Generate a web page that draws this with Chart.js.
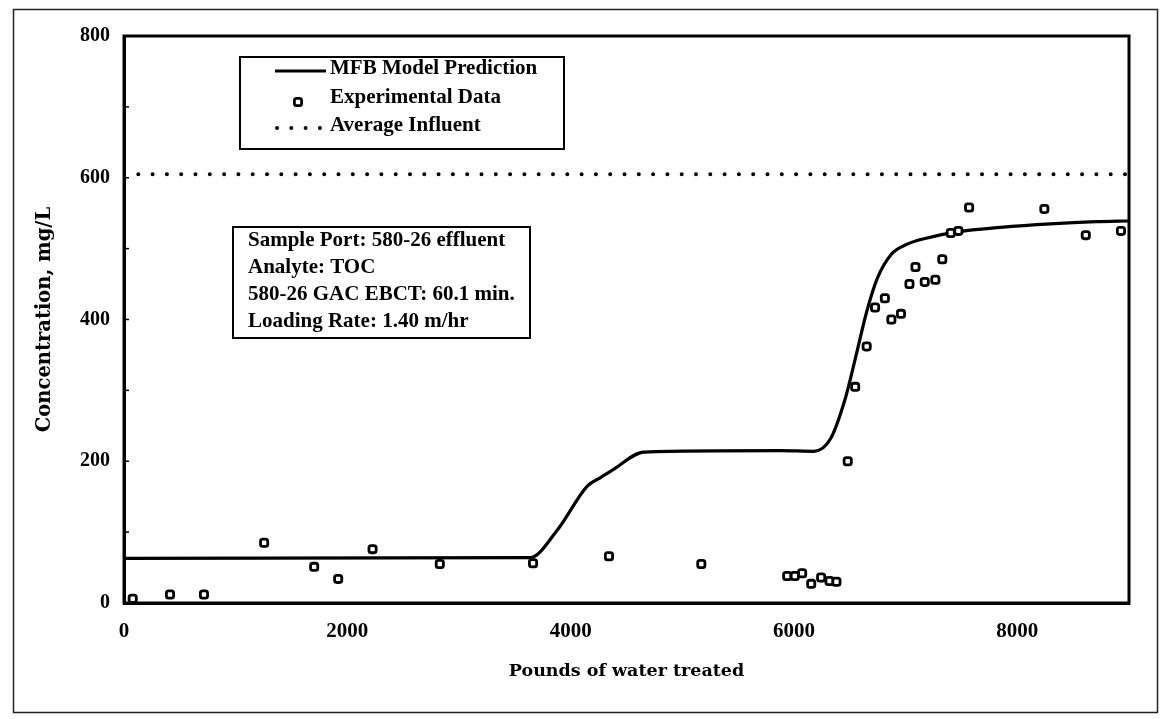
<!DOCTYPE html>
<html><head><meta charset="utf-8">
<script src="https://cdn.jsdelivr.net/npm/chart.js@4.4.0/dist/chart.umd.min.js"></script>
<style>html,body{margin:0;padding:0;background:#fff;}#wrap{position:relative;width:1161px;height:719px;}</style>
</head><body><div id="wrap"><canvas id="c" width="1161" height="719"></canvas></div>
<script>
// ---- data ----
const modelX = [0, 3636, 3881, 4149, 4268, 4388, 4656, 5879, 6177, 6328, 6462, 6548, 6651, 6746, 6872, 7009, 7164, 7472, 7848, 8295, 8705, 9000];
const modelY = [63, 64, 103, 165, 177, 189, 213, 215, 214, 232, 290, 344, 411, 458, 492, 506, 514, 524, 530, 535, 538, 539];
const expX = [78, 412, 716, 1255, 1703, 1918, 2226, 2828, 3663, 4343, 5170, 5939, 6007, 6073, 6154, 6243, 6318, 6380, 6481, 6548, 6651, 6726, 6814, 6872, 6958, 7034, 7088, 7171, 7266, 7328, 7404, 7472, 7568, 8242, 8613, 8928];
const expY = [6, 12, 12, 85, 51, 34, 76, 55, 56, 66, 55, 38, 38, 42, 27, 36, 31, 30, 200, 305, 362, 417, 430, 400, 408, 450, 474, 453, 456, 485, 522, 525, 558, 556, 519, 525];
const influentX = [0, 9000];
const influentY = [605, 605];
const xTicks = [0, 2000, 4000, 6000, 8000];
const yTicks = [0, 200, 400, 600, 800];
const seriesLabels = ['MFB Model Prediction', 'Experimental Data', 'Average Influent'];
const noteLines = ['Sample Port: 580-26 effluent', 'Analyte: TOC', '580-26 GAC EBCT: 60.1 min.', 'Loading Rate: 1.40 m/hr'];
const xTitle = 'Pounds of water treated';
const yTitle = 'Concentration, mg/L';

const pts = (xs, ys) => xs.map((x, i) => ({x, y: ys[i]}));

const framePlugin = {
  id: 'framePlugin',
  beforeDraw(chart) {
    const ctx = chart.ctx;
    ctx.save();
    ctx.fillStyle = '#fff';
    ctx.fillRect(0, 0, chart.width, chart.height);
    ctx.strokeStyle = '#222';
    ctx.lineWidth = 1.5;
    ctx.strokeRect(13.5, 9.5, 1144, 703);
    ctx.restore();
  },
  afterDatasetsDraw(chart) {
    const {ctx, chartArea: a, scales: {y}} = chart;
    ctx.save();
    ctx.strokeStyle = '#000';
    ctx.lineWidth = 3;
    ctx.strokeRect(a.left, a.top, a.right - a.left, a.bottom - a.top);
    ctx.lineWidth = 1.5;
    for (let v = 100; v < 800; v += 100) {
      const py = y.getPixelForValue(v);
      ctx.beginPath(); ctx.moveTo(a.left, py); ctx.lineTo(a.left + 5, py); ctx.stroke();
    }
    ctx.restore();
  }
};

const boxesPlugin = {
  id: 'boxesPlugin',
  afterDraw(chart) {
    const ctx = chart.ctx;
    const ds = chart.data.datasets;
    ctx.save();
    // legend box
    const bx = 240, by = 57, bw = 324, bh = 92;
    ctx.fillStyle = '#fff'; ctx.fillRect(bx, by, bw, bh);
    ctx.strokeStyle = '#000'; ctx.lineWidth = 2; ctx.strokeRect(bx, by, bw, bh);
    const rows = [69, 98, 126];
    // model line sample
    ctx.beginPath(); ctx.lineWidth = ds[0].borderWidth; ctx.strokeStyle = ds[0].borderColor;
    ctx.moveTo(275, rows[0] + 2); ctx.lineTo(326, rows[0] + 2); ctx.stroke();
    // marker sample
    ctx.fillStyle = ds[1].backgroundColor; ctx.strokeStyle = ds[1].borderColor; ctx.lineWidth = ds[1].borderWidth;
    Chart.helpers.drawPoint(ctx, {pointStyle: ds[1].pointStyle, radius: ds[1].pointRadius, borderWidth: ds[1].borderWidth}, 298, rows[1] + 4);
    // dotted sample
    ctx.save();
    ctx.beginPath(); ctx.lineWidth = ds[2].borderWidth; ctx.strokeStyle = ds[2].borderColor; ctx.lineCap = 'round';
    ctx.setLineDash(ds[2].borderDash);
    ctx.moveTo(277, rows[2] + 2); ctx.lineTo(326, rows[2] + 2); ctx.stroke();
    ctx.restore();
    ctx.font = 'bold 21px "Liberation Serif"';
    ctx.fillStyle = '#000'; ctx.textBaseline = 'middle'; ctx.textAlign = 'left';
    ctx.fillText(ds[0].label, 330, rows[0]);
    ctx.fillText(ds[1].label, 330, rows[1]);
    ctx.fillText(ds[2].label, 330, rows[2]);
    // annotation box
    const ax = 233, ay = 227, aw = 297, ah = 111;
    ctx.fillStyle = '#fff'; ctx.fillRect(ax, ay, aw, ah);
    ctx.strokeStyle = '#000'; ctx.lineWidth = 2; ctx.strokeRect(ax, ay, aw, ah);
    ctx.fillStyle = '#000';
    noteLines.forEach((t, i) => ctx.fillText(t, 248, 241 + i * 27));
    ctx.restore();
  }
};

new Chart(document.getElementById('c'), {
  type: 'scatter',
  data: {
    datasets: [
      {label: seriesLabels[0], data: pts(modelX, modelY), showLine: true, pointRadius: 0, borderColor: '#000', borderWidth: 3.2, cubicInterpolationMode: 'monotone', order: 1},
      {label: seriesLabels[1], data: pts(expX, expY), showLine: false, pointStyle: 'rectRounded', pointRadius: 4.2, borderWidth: 2.8, borderColor: '#000', backgroundColor: '#fff', order: 0},
      {label: seriesLabels[2], data: pts(influentX, influentY), showLine: true, pointRadius: 0, borderColor: '#000', borderWidth: 4, borderDash: [0, 14.3], borderCapStyle: 'round', order: 2}
    ]
  },
  options: {
    responsive: false, animation: false, devicePixelRatio: 1,
    layout: {padding: {left: 0, top: 36, right: 32, bottom: 0}},
    plugins: {legend: {display: false}, tooltip: {enabled: false}},
    scales: {
      x: {
        type: 'linear', min: 0, max: 9000,
        afterBuildTicks: s => { s.ticks = xTicks.map(v => ({value: v})); },
        afterFit: s => { s.height = 116; },
        grid: {display: false, drawTicks: false},
        border: {display: true, width: 3, color: '#000'},
        ticks: {color: '#000', padding: 16, maxRotation: 0, callback: v => String(v), font: {family: 'Liberation Serif', weight: 'bold', size: 21}},
        title: {display: true, text: xTitle, color: '#000', font: {family: 'DejaVu Serif', weight: 'bold', size: 17.5}, padding: {top: 0, bottom: 37}}
      },
      y: {
        type: 'linear', min: 0, max: 800,
        afterBuildTicks: s => { s.ticks = yTicks.map(v => ({value: v})); },
        afterFit: s => { s.width = 124; },
        grid: {display: false, drawTicks: false},
        border: {display: true, width: 3, color: '#000'},
        ticks: {color: '#000', padding: 14, callback: v => String(v), font: {family: 'Liberation Serif', weight: 'bold', size: 20}},
        title: {display: true, text: yTitle, color: '#000', font: {family: 'DejaVu Serif', weight: 'bold', size: 19.5}, padding: {top: 33, bottom: 0}}
      }
    }
  },
  plugins: [framePlugin, boxesPlugin]
});
</script></body></html>
